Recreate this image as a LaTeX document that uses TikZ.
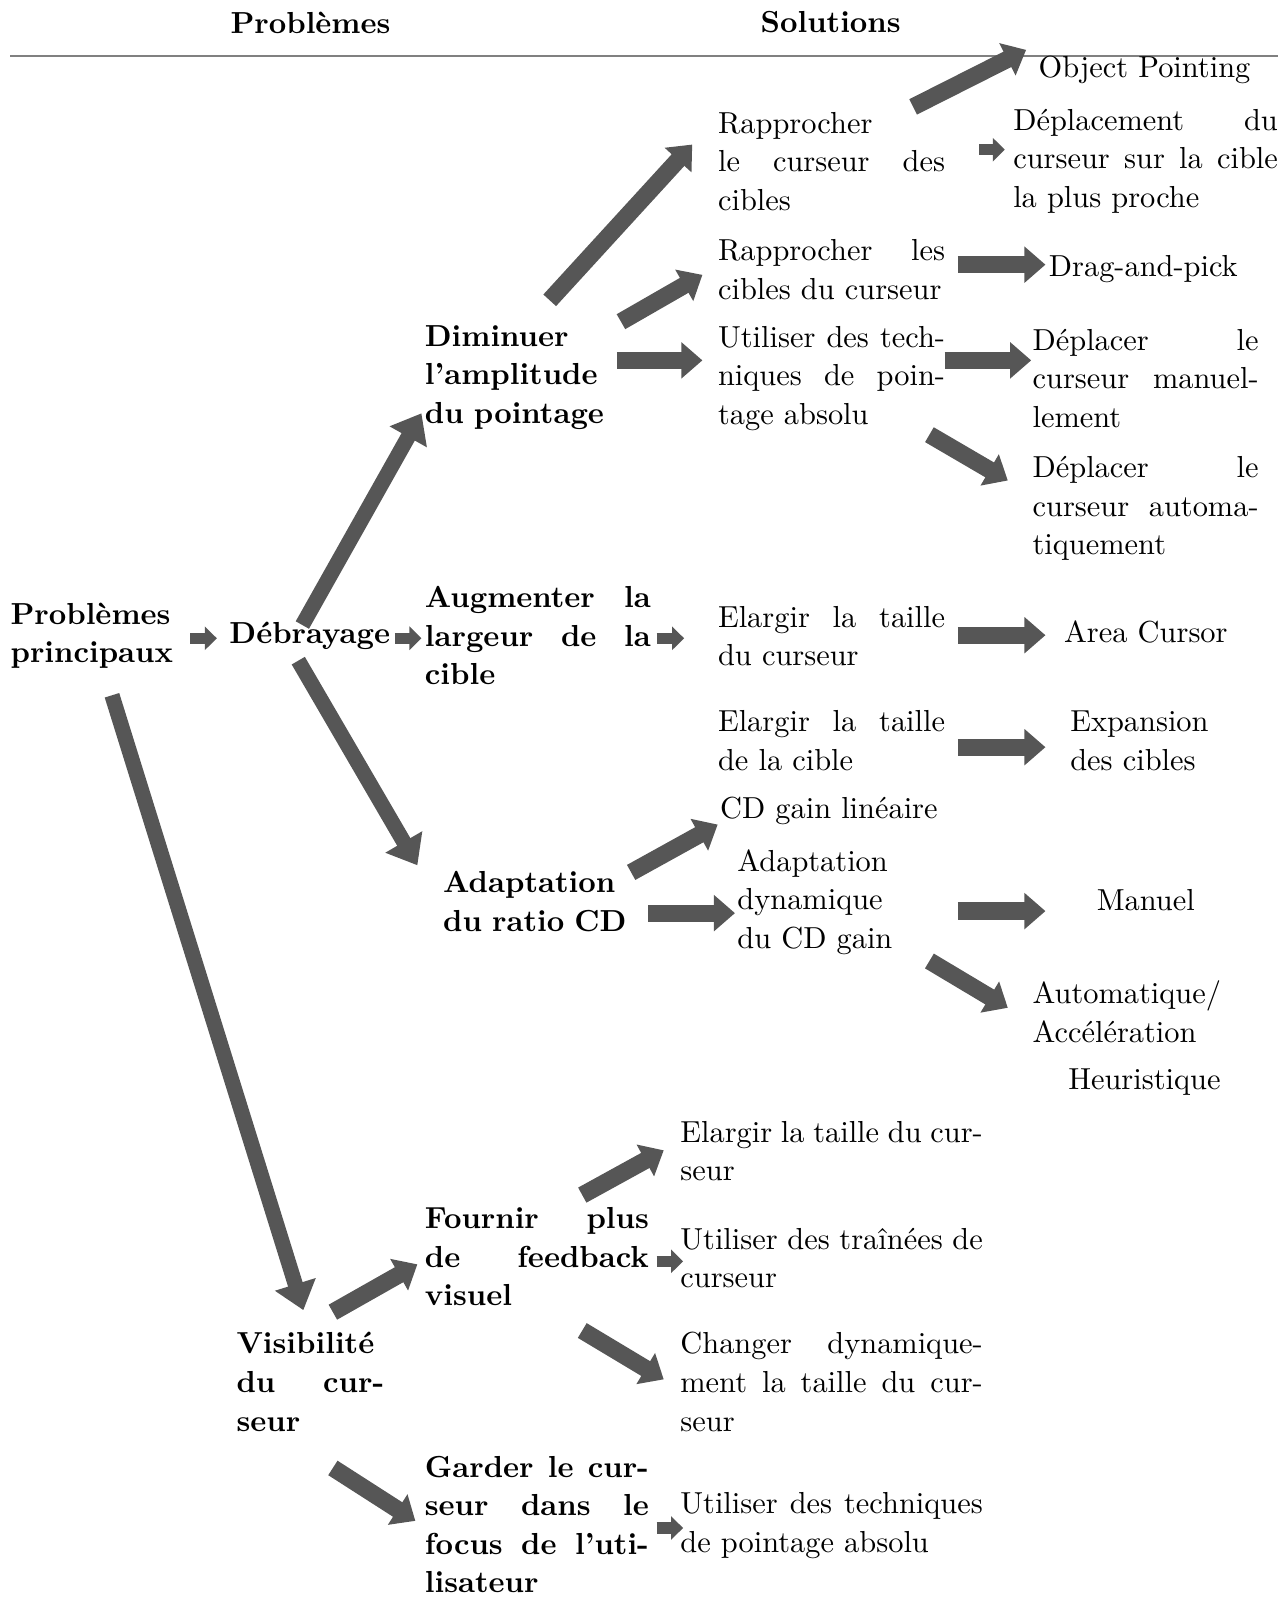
\documentclass[tikz,border=0pt]{standalone}
\usepackage{fontspec}
\setmainfont{lmroman10-regular.otf}[BoldFont=lmroman10-bold.otf]
\usetikzlibrary{arrows.meta}
\definecolor{arrowgray}{RGB}{86,86,86}
\begin{document}
\begin{tikzpicture}[x=0.509pt,y=-0.509pt]
    \tikzstyle{every node}+=[inner sep=0pt, font=\fontsize{15.2}{19.3}\selectfont]
    \tikzstyle{item}=[anchor=base west, align=left, text width=130pt]
    \tikzstyle{para}=[anchor=base west, align=justify]
    \tikzstyle{bigarr}=[arrowgray, line width=7.6pt, -{Triangle[width=20.5pt,length=13.5pt]}]
    \tikzstyle{midarr}=[arrowgray, line width=8.6pt, -{Triangle[width=17.5pt,length=10.5pt]}]
    \tikzstyle{smallarr}=[arrowgray, line width=5.6pt, -{Triangle[width=11.5pt,length=6pt]}]
    \useasboundingbox (0,-2) rectangle (1262.3,1566.8);
    % headers
    \node[font=\fontsize{15.2}{19.3}\selectfont\bfseries] (hprob) at (305,20) {Problèmes};
    \node[font=\fontsize{15.2}{19.3}\selectfont\bfseries] (hsol) at (816,20) {Solutions};
    \draw [gray, line width=0.8pt] (10,53) -- (1255,53);
    % problems
    \node[item, font=\fontsize{15.2}{19.3}\selectfont\bfseries] (prob) at (10,611) {Problèmes\\principaux};
    \node[item, font=\fontsize{15.2}{19.3}\selectfont\bfseries] (debr) at (225,630) {Débrayage};
    \node[item, font=\fontsize{15.2}{19.3}\selectfont\bfseries] (dimi) at (417,338) {Diminuer\\l'amplitude\\du pointage};
    \node[para, text width=113pt, font=\fontsize{15.2}{19.3}\selectfont\bfseries] (augm) at (417,595) {Augmenter la\linebreak largeur de la\linebreak cible};
    \node[item, font=\fontsize{15.2}{19.3}\selectfont\bfseries] (adap) at (435,875) {Adaptation\\du ratio CD};
    \node[para, text width=73.8pt, font=\fontsize{15.2}{19.3}\selectfont\bfseries] (visi) at (232,1328) {Visibilité\linebreak du cur-\linebreak seur};
    \node[para, text width=112pt, font=\fontsize{15.2}{19.3}\selectfont\bfseries] (four) at (417,1205) {Fournir plus\linebreak de feedback\linebreak visuel};
    \node[para, text width=112pt, font=\fontsize{15.2}{19.3}\selectfont\bfseries] (gard) at (417,1449) {Garder le cur-\linebreak seur dans le\linebreak focus de l'uti-\linebreak lisateur};
    % solutions
    \node[para, text width=113.5pt] (rapc) at (705,129) {Rapprocher\linebreak le curseur des\linebreak cibles};
    \node[para, text width=113.5pt] (rapl) at (705,254) {Rapprocher les\linebreak cibles du curseur};
    \node[para, text width=113.5pt] (util) at (705,339) {Utiliser des tech-\linebreak niques de poin-\linebreak tage absolu};
    \node[para, text width=113.5pt] (elcu) at (705,614) {Elargir la taille\linebreak du curseur};
    \node[para, text width=113.5pt] (elci) at (705,717) {Elargir la taille\linebreak de la cible};
    \node[item] (cdli) at (707,802) {CD gain linéaire};
    \node[item] (adyn) at (724,854) {Adaptation\\dynamique\\du CD gain};
    \node[para, text width=151.2pt] (eltc) at (668,1120) {Elargir la taille du cur-\linebreak seur};
    \node[para, text width=151.2pt] (trai) at (668,1225) {Utiliser des traînées de\linebreak curseur};
    \node[para, text width=151.2pt] (chan) at (668,1328) {Changer dynamique-\linebreak ment la taille du cur-\linebreak seur};
    \node[para, text width=151.2pt] (utab) at (668,1485) {Utiliser des techniques\linebreak de pointage absolu};
    \node[item] (objp) at (1020,74) {Object Pointing};
    \node[para, text width=132.3pt] (depl) at (995,126) {Déplacement du\linebreak curseur sur la cible\linebreak la plus proche};
    \node[item] (drag) at (1030,270) {Drag-and-pick};
    \node[para, text width=113pt] (dman) at (1014,342) {Déplacer le\linebreak curseur manuel-\linebreak lement};
    \node[para, text width=113pt] (daut) at (1014,467) {Déplacer le\linebreak curseur automa-\linebreak tiquement};
    \node[item] (area) at (1045,629) {Area Cursor};
    \node[item] (expa) at (1051,717) {Expansion\\des cibles};
    \node[item] (manu) at (1077,892) {Manuel};
    \node[item] (auto) at (1014,984) {Automatique/\\Accélération};
    \node[item] (heur) at (1049,1068) {Heuristique};
    % arrows
    \draw[bigarr] ([shift={(72,-18)}]debr.base west) -- ([shift={(-3,66)}]dimi.base west);
    \draw[bigarr] ([shift={(68,17)}]debr.base west) -- ([shift={(-25,-27)}]adap.base west);
    \draw[bigarr] ([shift={(100,70)}]prob.base west) -- ([shift={(66,-43)}]visi.base west);
    \draw[smallarr] ([shift={(177,14)}]prob.base west) -- ([shift={(-12,-5)}]debr.base west);
    \draw[smallarr] ([shift={(163,-5)}]debr.base west) -- ([shift={(-3,30)}]augm.base west);
    \draw[smallarr] ([shift={(228,30)}]augm.base west) -- ([shift={(-33,11)}]elcu.base west);
    \draw[midarr] ([shift={(123,-45)}]dimi.base west) -- ([shift={(-25,11)}]rapc.base west);
    \draw[midarr] ([shift={(193,-24)}]dimi.base west) -- ([shift={(-15,14)}]rapl.base west);
    \draw[midarr] ([shift={(189,14)}]dimi.base west) -- ([shift={(-15,13)}]util.base west);
    \draw[midarr] ([shift={(192,-26)}]rapc.base west) -- ([shift={(-12,-27)}]objp.base west);
    \draw[smallarr] ([shift={(257,16)}]rapc.base west) -- ([shift={(-8,19)}]depl.base west);
    \draw[midarr] ([shift={(236,4)}]rapl.base west) -- ([shift={(-3,-12)}]drag.base west);
    \draw[midarr] ([shift={(223,13)}]util.base west) -- ([shift={(-1,10)}]dman.base west);
    \draw[midarr] ([shift={(208,86)}]util.base west) -- ([shift={(-24,3)}]daut.base west);
    \draw[midarr] ([shift={(236,8)}]elcu.base west) -- ([shift={(-18,-7)}]area.base west);
    \draw[midarr] ([shift={(236,15)}]elci.base west) -- ([shift={(-24,15)}]expa.base west);
    \draw[midarr] ([shift={(185,-20)}]adap.base west) -- ([shift={(-2,6)}]cdli.base west);
    \draw[midarr] ([shift={(202,20)}]adap.base west) -- ([shift={(-2,41)}]adyn.base west);
    \draw[midarr] ([shift={(217,39)}]adyn.base west) -- ([shift={(-50,1)}]manu.base west);
    \draw[midarr] ([shift={(189,88)}]adyn.base west) -- ([shift={(-24,4)}]auto.base west);
    \draw[midarr] ([shift={(95,-41)}]visi.base west) -- ([shift={(-7,35)}]four.base west);
    \draw[midarr] ([shift={(95,112)}]visi.base west) -- ([shift={(-9,43)}]gard.base west);
    \draw[midarr] ([shift={(155,-33)}]four.base west) -- ([shift={(-16,8)}]eltc.base west);
    \draw[smallarr] ([shift={(228,32)}]four.base west) -- ([shift={(3,12)}]trai.base west);
    \draw[midarr] ([shift={(155,100)}]four.base west) -- ([shift={(-16,25)}]chan.base west);
    \draw[smallarr] ([shift={(228,50)}]gard.base west) -- ([shift={(3,14)}]utab.base west);
\end{tikzpicture}
\end{document}
